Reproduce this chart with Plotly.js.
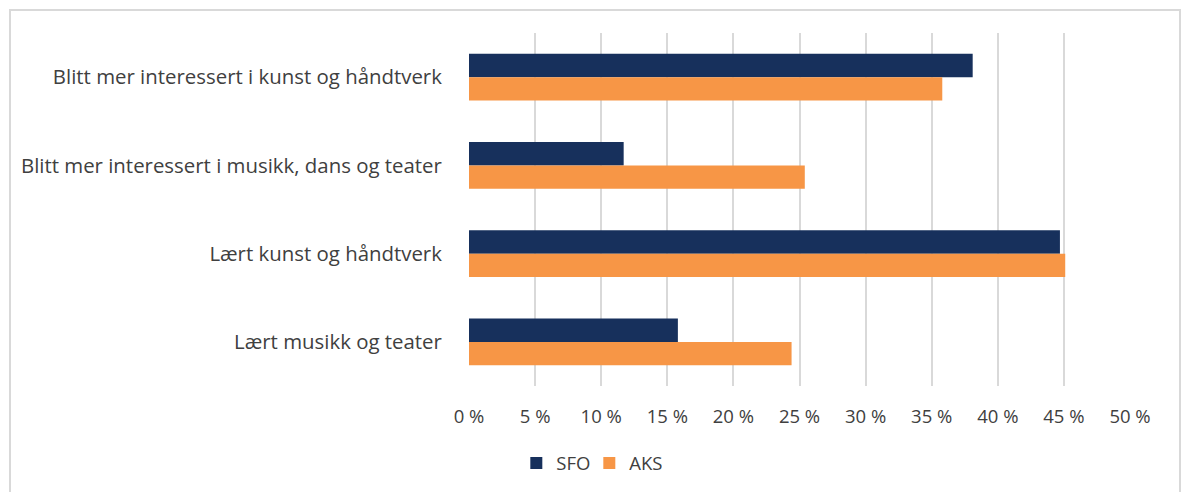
<!DOCTYPE html>
<html>
<head>
<meta charset="utf-8">
<script src="https://cdn.plot.ly/plotly-3.0.1.min.js"></script>
<style>
  body { margin: 0; background: #fff; }
  #wrap { position: relative; width: 1181px; height: 492px; }
  #chart { width: 1181px; height: 492px; }
  #frame {
    position: absolute; left: 9px; top: 9px; width: 1168px; height: 500px;
    border: 2px solid #d9d9d9; pointer-events: none;
  }
</style>
</head>
<body>
<div id="wrap">
  <div id="chart"></div>
  <div id="frame"></div>
</div>
<script>
var categories = [
  "Blitt mer interessert i kunst og håndtverk",
  "Blitt mer interessert i musikk, dans og teater",
  "Lært kunst og håndtverk",
  "Lært musikk og teater"
];
var sfo = [38.1, 11.7, 44.7, 15.8];
var aks = [35.8, 25.4, 45.1, 24.4];
var xticks = [0, 5, 10, 15, 20, 25, 30, 35, 40, 45, 50];
var xlabels = xticks.map(function (v) { return v + " %"; });

var fontFam = "'Open Sans', Lato, sans-serif";

Plotly.newPlot(
  "chart",
  [
    {
      type: "bar",
      orientation: "h",
      name: "SFO",
      y: categories,
      x: sfo,
      marker: { color: "#17305c" },
    },
    {
      type: "bar",
      orientation: "h",
      name: "AKS",
      y: categories,
      x: aks,
      marker: { color: "#f79646" },
    },
  ],
  {
    width: 1181,
    height: 492,
    barmode: "group",
    bargap: 0.47,
    bargroupgap: 0,
    margin: { l: 469, r: 51, t: 33, b: 106 },
    paper_bgcolor: "#ffffff",
    plot_bgcolor: "#ffffff",
    font: { family: fontFam, color: "#404040", size: 17 },
    xaxis: {
      range: [0, 50],
      tickmode: "array",
      tickvals: xticks,
      ticktext: xlabels,
      tickfont: { size: 18.5, color: "#404040" },
      showgrid: true,
      gridcolor: "#d9d9d9",
      gridwidth: 2,
      zeroline: false,
      showline: false,
      ticks: "outside",
      ticklen: 14,
      tickcolor: "rgba(0,0,0,0)",
      fixedrange: true,
    },
    yaxis: {
      autorange: "reversed",
      tickfont: { size: 20.4, color: "#404040" },
      ticks: "outside",
      ticklen: 22,
      tickcolor: "rgba(0,0,0,0)",
      showgrid: false,
      zeroline: false,
      showline: false,
      fixedrange: true,
    },
    showlegend: true,
    legend: {
      orientation: "h",
      xref: "container",
      yref: "container",
      x: 0.499,
      xanchor: "center",
      y: 0.058,
      yanchor: "middle",
      font: { size: 18.5, color: "#404040" },
      itemwidth: 30,
      entrywidth: 28,
      traceorder: "normal",
    },
  },
  { displayModeBar: false }
);
</script>
</body>
</html>
